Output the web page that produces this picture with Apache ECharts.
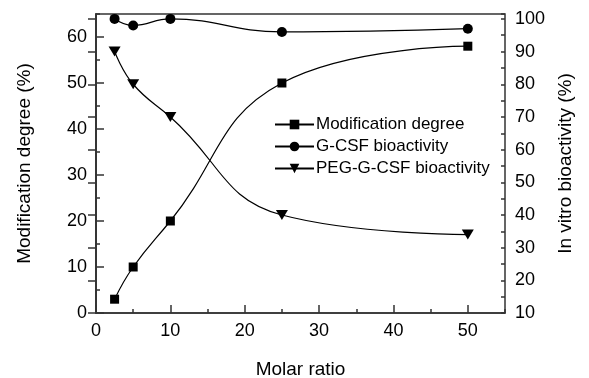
<!DOCTYPE html>
<html>
<head>
<meta charset="utf-8">
<script src="https://cdn.jsdelivr.net/npm/echarts@6/dist/echarts.min.js"></script>
<style>
  html, body { margin: 0; padding: 0; background: #fff; }
  #chart { width: 589px; height: 378px; }
</style>
</head>
<body>
<div id="chart"></div>
<script>
const molarRatio = [2.5, 5, 10, 25, 50];
const modificationDegree = [3, 10, 20, 50, 58];
const gcsfBioactivity = [100, 98, 100, 96, 97];
const pegBioactivity = [90, 80, 70, 40, 34];

const seriesNames = ["Modification degree", "G-CSF bioactivity", "PEG-G-CSF bioactivity"];

const font = "Arial, 'Liberation Sans', sans-serif";
const axisColor = "#333";

const pairs = (ys) => molarRatio.map((x, i) => [x, ys[i]]);

const chart = echarts.init(document.getElementById("chart"));

const lineAxis = { show: true, lineStyle: { color: axisColor, width: 1.5 } };
const majorTick = { show: true, inside: true, length: 8, lineStyle: { color: axisColor, width: 1.5 } };
const minorTick = { show: true, inside: true, length: 4, lineStyle: { color: axisColor, width: 1.5 } };
const labelStyle = { color: "#000", fontSize: 18, fontFamily: font };
const nameStyle = { color: "#000", fontSize: 19, fontFamily: font };

const lineSeries = (name, ys, yAxisIndex, symbol, size, rotate) => ({
  name,
  type: "line",
  data: pairs(ys),
  xAxisIndex: 0,
  yAxisIndex,
  smooth: 0.45,
  symbol,
  symbolSize: size,
  symbolRotate: rotate,
  showAllSymbol: true,
  lineStyle: { color: "#000", width: 1.2 },
  itemStyle: { color: "#000", borderWidth: 0 },
});

chart.setOption({
  animation: false,
  backgroundColor: "#fff",
  grid: {
    left: 96,
    right: 84,
    top: 14,
    bottom: 65,
    outerBoundsMode: "none",
    containLabel: false,
    show: true,
    borderColor: axisColor,
    borderWidth: 1.5,
  },
  legend: {
    orient: "vertical",
    left: 269,
    top: 111,
    itemWidth: 39,
    itemHeight: 12,
    itemGap: 5,
    textStyle: { color: "#000", fontSize: 17, fontFamily: font, padding: [0, 0, 0, -3] },
    data: seriesNames,
  },
  xAxis: [
    {
      type: "value",
      min: 0,
      max: 55,
      interval: 10,
      name: "Molar ratio",
      nameLocation: "middle",
      nameGap: 47,
      nameTextStyle: nameStyle,
      axisLine: lineAxis,
      axisTick: majorTick,
      axisLabel: Object.assign({ margin: 9, showMaxLabel: false }, labelStyle),
      splitLine: { show: false },
    },
    {
      type: "value",
      position: "bottom",
      min: 0,
      max: 55,
      interval: 5,
      axisLine: { show: false },
      axisTick: minorTick,
      axisLabel: { show: false },
      splitLine: { show: false },
    },
  ],
  yAxis: [
    {
      type: "value",
      position: "left",
      min: 0,
      max: 65,
      interval: 10,
      name: "Modification degree (%)",
      nameLocation: "middle",
      nameGap: 62,
      nameRotate: 90,
      nameTextStyle: nameStyle,
      axisLine: lineAxis,
      axisTick: majorTick,
      axisLabel: Object.assign({ margin: 9, showMaxLabel: false }, labelStyle),
      splitLine: { show: false },
    },
    {
      type: "value",
      position: "right",
      min: 10,
      max: 101.5,
      interval: 10,
      name: "In vitro bioactivity (%)",
      nameLocation: "middle",
      nameGap: 50,
      nameRotate: 90,
      nameTextStyle: nameStyle,
      axisLine: lineAxis,
      axisTick: majorTick,
      axisLabel: Object.assign({ margin: 10, showMaxLabel: false }, labelStyle),
      splitLine: { show: false },
    },
    {
      type: "value",
      position: "left",
      min: 0,
      max: 65,
      interval: 5,
      axisLine: { show: false },
      axisTick: minorTick,
      axisLabel: { show: false },
      splitLine: { show: false },
    },
    {
      type: "value",
      position: "right",
      min: 10,
      max: 101.5,
      interval: 5,
      axisLine: { show: false },
      axisTick: minorTick,
      axisLabel: { show: false },
      splitLine: { show: false },
    },
  ],
  series: [
    lineSeries(seriesNames[0], modificationDegree, 0, "rect", 9, 0),
    lineSeries(seriesNames[1], gcsfBioactivity, 1, "circle", 10, 0),
    lineSeries(seriesNames[2], pegBioactivity, 1, "triangle", [12, 10], 180),
  ],
});
</script>
</body>
</html>
